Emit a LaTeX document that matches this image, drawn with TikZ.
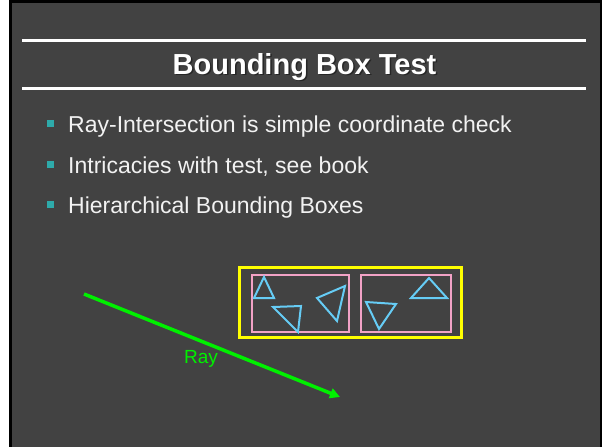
\documentclass[tikz,border=0pt]{standalone}
\usepackage{fontspec}
\setmainfont{Liberation Sans}
\usetikzlibrary{arrows.meta}
\definecolor{slidebg}{HTML}{424242}
\definecolor{bul}{HTML}{2EAAAA}
\definecolor{boxy}{HTML}{FFFF00}
\definecolor{pinkb}{HTML}{F2A2C6}
\definecolor{tri}{HTML}{66CCF5}
\definecolor{rayg}{HTML}{00F000}
\definecolor{txt}{HTML}{F2F2F2}
\begin{document}
\begin{tikzpicture}[x=1pt,y=-1pt,
  rule/.style={white,line width=3pt},
  titletext/.style={font=\bfseries\fontsize{29}{29}\selectfont,anchor=base,inner sep=0pt},
  bullettext/.style={font=\fontsize{23}{23}\selectfont,text=txt,anchor=base west,inner sep=0pt},
  bulletsq/.style={fill=bul,minimum size=7pt,inner sep=0pt},
  outerbox/.style={draw=boxy,line width=3pt},
  innerbox/.style={draw=pinkb,line width=2pt},
  tri/.style={draw=tri,line width=2pt,line join=miter},
  raystyle/.style={draw=rayg,line width=3.5pt,-{Triangle[length=10pt,width=10pt]}}]
\useasboundingbox (0,0) rectangle (602,447);
\fill[white] (0,0) rectangle (602,447);
\fill[black] (9,0) rectangle (602,447);
\fill[slidebg] (12,2.5) rectangle (600,447);
% rules
\draw[rule] (22,40) -- (586,40);
\draw[rule] (22,88) -- (586,88);
% title
\node[titletext,text=black!85] at (306,75.5) {Bounding Box Test};
\node[titletext,text=white] (title) at (304.5,74) {Bounding Box Test};
% bullets
\node[bulletsq] (b1) at (50.5,123.5) {};
\node[bullettext] (t1) at (68,132) {Ray-Intersection is simple coordinate check};
\node[bulletsq] (b2) at (50.5,164.5) {};
\node[bullettext] (t2) at (68,173) {Intricacies with test, see book};
\node[bulletsq] (b3) at (50.5,204.5) {};
\node[bullettext] (t3) at (68,213) {Hierarchical Bounding Boxes};
% boxes
\draw[outerbox] (239,267) rectangle (461,337);
\draw[innerbox] (252,275) rectangle (349,332);
\draw[innerbox] (361,275) rectangle (451,332);
% triangles
\draw[tri] (264,277) -- (254,298) -- (274,298) -- cycle;
\draw[tri] (273,307) -- (301,306) -- (298,332) -- cycle;
\draw[tri] (345,286) -- (317,298) -- (337,321) -- cycle;
\draw[tri] (366,302) -- (396,304) -- (379,329) -- cycle;
\draw[tri] (429,278) -- (411,298) -- (447,298) -- cycle;
% ray
\coordinate (rs) at (84,294);
\coordinate (re) at (340,397);
\draw[raystyle] (rs) -- (re);
\node[font=\fontsize{19}{19}\selectfont,text=rayg,inner sep=0pt] (raylabel) at (201,359) {Ray};
\end{tikzpicture}
\end{document}
